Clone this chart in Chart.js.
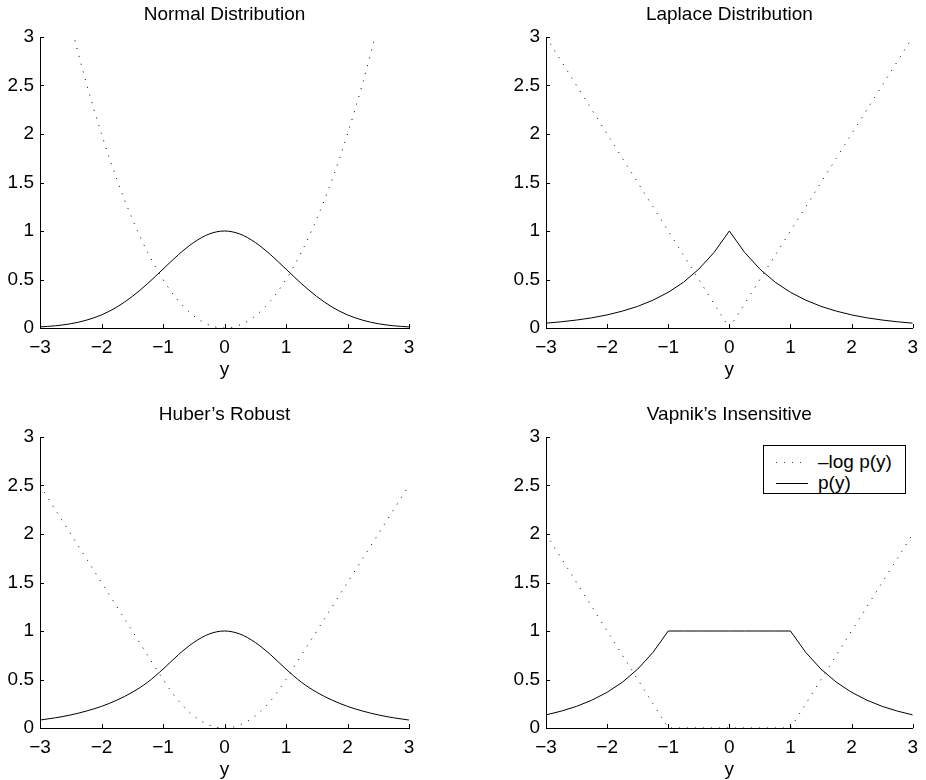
<!DOCTYPE html>
<html>
<head>
<meta charset="utf-8">
<script src="https://cdn.jsdelivr.net/npm/chart.js@4/dist/chart.umd.min.js"></script>
<style>
  html, body { margin: 0; padding: 0; background: #fff; overflow: hidden; }
  #page { position: relative; width: 926px; height: 780px; overflow: hidden; font-family: "Liberation Sans", Arial, sans-serif; }
  canvas { position: absolute; }
  #legend {
    position: absolute; left: 763px; top: 445px; width: 141px; height: 47px;
    border: 1px solid #000; background: #fff; font-size: 19px; color: #000;
  }
  #legend .row { position: absolute; left: 0; height: 22px; line-height: 22px; white-space: nowrap; }
  #legend .sample { position: absolute; left: 12px; top: 11px; width: 32px; height: 0; }
  #legend .txt { position: absolute; left: 54px; top: 0; }
</style>
</head>
<body>
<div id="page">
  <canvas id="normal" width="449" height="390" style="left:0;top:0"></canvas>
  <canvas id="laplace" width="420" height="390" style="left:506px;top:0"></canvas>
  <canvas id="huber" width="449" height="390" style="left:0;top:400px"></canvas>
  <canvas id="vapnik" width="420" height="390" style="left:506px;top:400px"></canvas>
  <div id="legend"></div>
</div>
<script>
const FONT = '"Liberation Sans", Arial, sans-serif';

// sample positions along y
const yValues = [-3, -2.75, -2.5, -2.25, -2, -1.75, -1.5, -1.25, -1, -0.75, -0.5, -0.25, 0,
  0.25, 0.5, 0.75, 1, 1.25, 1.5, 1.75, 2, 2.25, 2.5, 2.75, 3];

const seriesLabels = ['\u2013log p(y)', 'p(y)'];
const titles = ['Normal Distribution', 'Laplace Distribution', "Huber\u2019s Robust", "Vapnik\u2019s Insensitive"];

// Normal
const normalNegLog = [null, null, 3.125, 2.531, 2, 1.531, 1.125, 0.781, 0.5, 0.281, 0.125, 0.031, 0,
  0.031, 0.125, 0.281, 0.5, 0.781, 1.125, 1.531, 2, 2.531, 3.125, null, null];
const normalP = [0.011, 0.023, 0.044, 0.080, 0.135, 0.216, 0.325, 0.458, 0.607, 0.755, 0.882, 0.969, 1,
  0.969, 0.882, 0.755, 0.607, 0.458, 0.325, 0.216, 0.135, 0.080, 0.044, 0.023, 0.011];

// Laplace
const laplaceNegLog = [3, 2.75, 2.5, 2.25, 2, 1.75, 1.5, 1.25, 1, 0.75, 0.5, 0.25, 0,
  0.25, 0.5, 0.75, 1, 1.25, 1.5, 1.75, 2, 2.25, 2.5, 2.75, 3];
const laplaceP = [0.050, 0.064, 0.082, 0.105, 0.135, 0.174, 0.223, 0.287, 0.368, 0.472, 0.607, 0.779, 1,
  0.779, 0.607, 0.472, 0.368, 0.287, 0.223, 0.174, 0.135, 0.105, 0.082, 0.064, 0.050];

// Huber
const huberNegLog = [2.5, 2.25, 2, 1.75, 1.5, 1.25, 1, 0.75, 0.5, 0.281, 0.125, 0.031, 0,
  0.031, 0.125, 0.281, 0.5, 0.75, 1, 1.25, 1.5, 1.75, 2, 2.25, 2.5];
const huberP = [0.082, 0.105, 0.135, 0.174, 0.223, 0.287, 0.368, 0.472, 0.607, 0.755, 0.882, 0.969, 1,
  0.969, 0.882, 0.755, 0.607, 0.472, 0.368, 0.287, 0.223, 0.174, 0.135, 0.105, 0.082];

// Vapnik
const vapnikNegLog = [2, 1.75, 1.5, 1.25, 1, 0.75, 0.5, 0.25, 0, 0, 0, 0, 0,
  0, 0, 0, 0, 0.25, 0.5, 0.75, 1, 1.25, 1.5, 1.75, 2];
const vapnikP = [0.135, 0.174, 0.223, 0.287, 0.368, 0.472, 0.607, 0.779, 1, 1, 1, 1, 1,
  1, 1, 1, 1, 0.779, 0.607, 0.472, 0.368, 0.287, 0.223, 0.174, 0.135];

const xTicks = [-3, -2, -1, 0, 1, 2, 3];

function toPoints(vals) {
  return vals.map((v, i) => ({ x: yValues[i], y: v }));
}

function fmtTick(v) {
  return v < 0 ? '\u2212' + Math.abs(v) : String(v);
}

// matlab style ticks pointing into the plot
const inwardTicks = {
  id: 'inwardTicks',
  afterDatasetsDraw(chart) {
    const { ctx, chartArea, scales: { x, y } } = chart;
    ctx.save();
    ctx.strokeStyle = '#000';
    ctx.lineWidth = 1;
    ctx.beginPath();
    x.ticks.forEach(t => {
      const px = Math.round(x.getPixelForValue(t.value)) + 0.5;
      ctx.moveTo(px, chartArea.bottom);
      ctx.lineTo(px, chartArea.bottom - 4);
    });
    y.ticks.forEach(t => {
      const py = Math.round(y.getPixelForValue(t.value)) + 0.5;
      ctx.moveTo(chartArea.left, py);
      ctx.lineTo(chartArea.left + 4, py);
    });
    ctx.stroke();
    ctx.restore();
  }
};

// smooth = true for curves without kinks
function makeChart(id, title, negLog, p, padRight, smooth) {
  const interp = smooth ? 'monotone' : 'default';
  return new Chart(document.getElementById(id), {
    type: 'line',
    data: {
      datasets: [
        {
          label: seriesLabels[0],
          data: toPoints(negLog),
          borderColor: '#000',
          borderWidth: 1,
          borderDash: [1, 7],
          pointRadius: 0,
          tension: 0,
          cubicInterpolationMode: interp,
          fill: false
        },
        {
          label: seriesLabels[1],
          data: toPoints(p),
          borderColor: '#000',
          borderWidth: 1,
          pointRadius: 0,
          tension: 0,
          cubicInterpolationMode: interp,
          fill: false
        }
      ]
    },
    options: {
      responsive: false,
      animation: false,
      events: [],
      layout: { padding: { left: 0, right: padRight, top: 0, bottom: 0 } },
      plugins: {
        legend: { display: false },
        tooltip: { enabled: false },
        title: {
          display: true,
          text: title,
          fullSize: false,
          color: '#000',
          font: { family: FONT, size: 19, weight: 'normal', lineHeight: 1.2 },
          padding: { top: 3, bottom: 11.2 }
        }
      },
      scales: {
        x: {
          type: 'linear',
          min: -3,
          max: 3,
          grid: { display: false, drawTicks: false },
          border: { display: true, color: '#000', width: 1 },
          afterBuildTicks: s => { s.ticks = xTicks.map(v => ({ value: v })); },
          ticks: {
            color: '#000',
            font: { family: FONT, size: 19 },
            padding: 8,
            maxRotation: 0,
            autoSkip: false,
            callback: v => fmtTick(v)
          },
          title: {
            display: true,
            text: 'y',
            color: '#000',
            font: { family: FONT, size: 19 },
            padding: { top: 0, bottom: 8.6 }
          },
          afterFit: s => { s.height = 62; }
        },
        y: {
          min: 0,
          max: 3,
          grid: { display: false, drawTicks: false },
          border: { display: true, color: '#000', width: 1 },
          ticks: {
            stepSize: 0.5,
            color: '#000',
            font: { family: FONT, size: 19 },
            padding: 6,
            callback: v => String(v)
          },
          afterFit: s => { s.width = 40; }
        }
      }
    },
    plugins: [inwardTicks]
  });
}

makeChart('normal', titles[0], normalNegLog, normalP, 40, true);
makeChart('laplace', titles[1], laplaceNegLog, laplaceP, 10, false);
makeChart('huber', titles[2], huberNegLog, huberP, 40, true);
const vapnikChart = makeChart('vapnik', titles[3], vapnikNegLog, vapnikP, 10, false);

// legend for the last panel, built from its datasets
const legendEl = document.getElementById('legend');
vapnikChart.data.datasets.forEach((ds, i) => {
  const row = document.createElement('div');
  row.className = 'row';
  row.style.top = (5 + i * 21) + 'px';
  const sample = document.createElement('div');
  sample.className = 'sample';
  if (ds.borderDash) {
    sample.style.height = '1px';
    sample.style.top = '11px';
    sample.style.background = 'repeating-linear-gradient(to right, #444 0 1px, transparent 1px 8px)';
  } else {
    sample.style.borderTop = '1px solid #000';
  }
  const txt = document.createElement('span');
  txt.className = 'txt';
  txt.textContent = ds.label;
  row.appendChild(sample);
  row.appendChild(txt);
  legendEl.appendChild(row);
});
</script>
</body>
</html>
